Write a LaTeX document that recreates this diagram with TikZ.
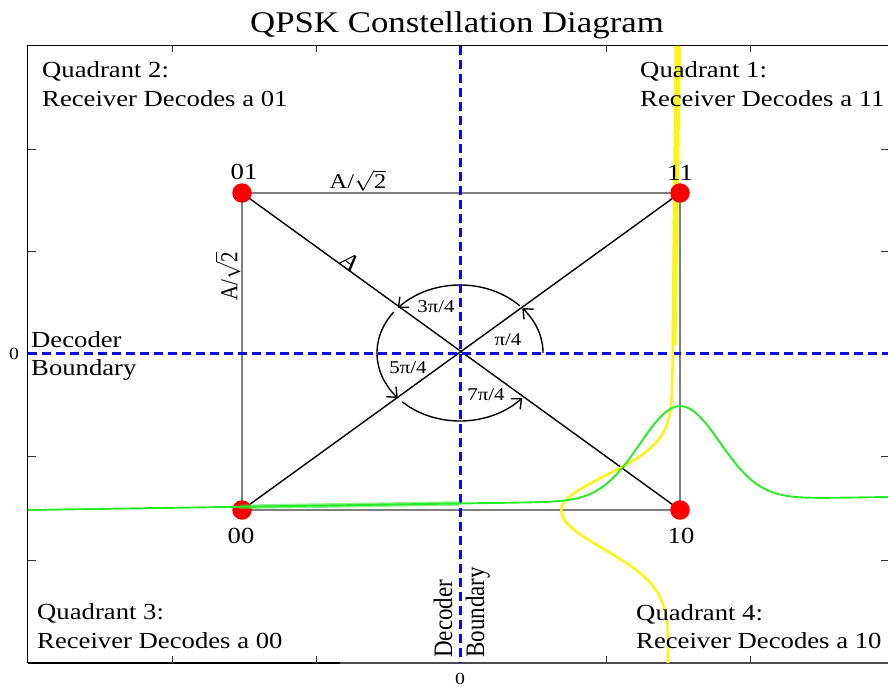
\documentclass[tikz,border=0pt]{standalone}
\usepackage{fontspec}
\setmainfont{Liberation Serif}
\usetikzlibrary{arrows.meta}
\definecolor{qblue}{RGB}{10,10,235}
\definecolor{qgreen}{RGB}{40,235,40}
\definecolor{qyellow}{RGB}{250,245,20}
\definecolor{qred}{RGB}{250,0,0}
\definecolor{qgray}{RGB}{128,128,128}
\begin{document}
\begin{tikzpicture}[x=1pt,y=-1pt,
  txt/.style={font=\fontsize{23}{28}\selectfont, xscale=1.16, inner sep=0pt},
  smalltxt/.style={font=\fontsize{21}{25}\selectfont, xscale=1.16, inner sep=0pt},
  angtxt/.style={font=\fontsize{18}{21}\selectfont, xscale=1.16, inner sep=0pt},
  zerotxt/.style={font=\fontsize{17}{19}\selectfont, xscale=1.16, inner sep=0pt},
  frameline/.style={line width=1.2pt, black},
  tickline/.style={line width=0.9pt, black!80},
  boundary/.style={line width=3pt, qblue, dash pattern=on 9pt off 5pt},
  rectline/.style={line width=1.5pt, qgray},
  diagline/.style={line width=1.4pt, black},
  arcline/.style={line width=1.4pt, black, -{Straight Barb[length=8pt,width=14pt,line width=1.4pt]}},
  dot/.style={circle, fill=qred, minimum size=19.5pt, inner sep=0pt},
  greenline/.style={line width=1.9pt, qgreen},
  yellowline/.style={line width=2.6pt, qyellow}
]
\useasboundingbox (0,0) rectangle (888,687);
% frame
\coordinate (fTL) at (27.5,45.5);
\coordinate (fTR) at (888,45.5);
\coordinate (fBL) at (27.5,663);
\coordinate (fBM) at (340,663);
\coordinate (fBR) at (888,663);
\draw[frameline] (fBL) -- (fTL) -- (fTR);
\draw[frameline] (fBL) -- (fBM);
\draw[line width=1.2pt, black!70] (fBM) -- (fBR);
\foreach \tx in {172,316,606,750} {
  \draw[tickline] (\tx,45.5) -- ++(0,7);
  \draw[tickline] (\tx,663) -- ++(0,-7);
}
\foreach \ty in {149,251,456,560} {
  \draw[tickline] (27.5,\ty) -- ++(8,0);
  \draw[tickline] (888,\ty) -- ++(-7,0);
}
% constellation geometry
\coordinate (c01) at (242,193);
\coordinate (c11) at (680,193);
\coordinate (c00) at (242,510);
\coordinate (c10) at (680,510);
\coordinate (o) at (460,353);
\draw[rectline] (c01) -- (c11) -- (c10) -- (c00) -- cycle;
\draw[diagline] (c01) -- (c10);
\draw[diagline] (c00) -- (c11);
% angle arcs
\draw[arcline] plot[domain=0:41.4, samples=30] ({460+83*cos(\x)},{353-68*sin(\x)});
\draw[arcline] plot[domain=44:138.6, samples=40] ({460+83*cos(\x)},{353-68*sin(\x)});
\draw[arcline] plot[domain=143:221.4, samples=40] ({460+83*cos(\x)},{353-68*sin(\x)});
\draw[arcline] plot[domain=226:318.6, samples=40] ({460+83*cos(\x)},{353-68*sin(\x)});
% decoder boundaries
\coordinate (vT) at (460,46);
\coordinate (vB) at (460,663);
\coordinate (hL) at (28,353);
\coordinate (hR) at (888,353);
\draw[boundary] (vT) -- (vB);
\draw[boundary] (hL) -- (hR);
% yellow noise distribution
\fill[qyellow] (674.5,46) -- (681,46) -- (676.5,345) -- (671.5,345) -- cycle;
\draw[yellowline] plot[variable=\t, domain=46:663, samples=300]
  ({677.5-9.5*(\t-46)/617-109*exp(max(-((\t-510)/(34+5*(\t>510)))^2/2,-15))},\t);
% constellation points
\node[dot] (p01) at (c01) {};
\node[dot] (p11) at (c11) {};
\node[dot] (p00) at (c00) {};
\node[dot] (p10) at (c10) {};
% green noise distribution
\draw[greenline] plot[domain=28:888, samples=300]
  (\x, {510-13*(\x-28)/860-94*exp(max(-((\x-680)/40)^2/2,-15))});
\draw[line width=4.5pt, qgreen, opacity=0.55] plot[domain=240:460, samples=40]
  (\x, {510-13*(\x-28)/860});
% texts
\node[font=\fontsize{30}{36}\selectfont, xscale=1.16, inner sep=0pt, anchor=base] (title) at (457,33) {QPSK Constellation Diagram};
\node[txt, anchor=base west] (q2a) at (42,78) {Quadrant 2:};
\node[txt, anchor=base west] (q2b) at (42,107) {Receiver Decodes a 01};
\node[txt, anchor=base west] (q1a) at (640,78) {Quadrant 1:};
\node[txt, anchor=base west] (q1b) at (640,107) {Receiver Decodes a 11};
\node[txt, anchor=base west] (q3a) at (37,619) {Quadrant 3:};
\node[txt, anchor=base west] (q3b) at (37,648) {Receiver Decodes a 00};
\node[txt, anchor=base west] (q4a) at (636,620) {Quadrant 4:};
\node[txt, anchor=base west] (q4b) at (636,648) {Receiver Decodes a 10};
\node[txt, anchor=base west] (hd1) at (31,347) {Decoder};
\node[txt, anchor=base west] (hd2) at (31,375) {Boundary};
\node[txt, rotate=90, anchor=base west] (vd1) at (452,658) {Decoder};
\node[txt, rotate=90, anchor=base west] (vd2) at (484,658) {Boundary};
\node[txt, anchor=base] (l01) at (244,180) {01};
\node[txt, anchor=base] (l11) at (680,181) {11};
\node[txt, anchor=base] (l00) at (241,543) {00};
\node[txt, anchor=base] (l10) at (681,543) {10};
\node[smalltxt, anchor=base] (wtop) at (358,189) {A/$\sqrt{\textrm{2}}$};
\node[smalltxt, rotate=90] (wleft) at (228,276) {A/$\sqrt{\textrm{2}}$};
\node[txt, rotate=-40] (lA) at (351,262) {A};
\node[angtxt] (a3) at (436,307) {3π/4};
\node[angtxt] (a1) at (508,340) {π/4};
\node[angtxt] (a5) at (408,368) {5π/4};
\node[angtxt] (a7) at (486,395) {7π/4};
\node[zerotxt] (z1) at (14,354) {0};
\node[zerotxt] (z2) at (460,679) {0};
\end{tikzpicture}
\end{document}
